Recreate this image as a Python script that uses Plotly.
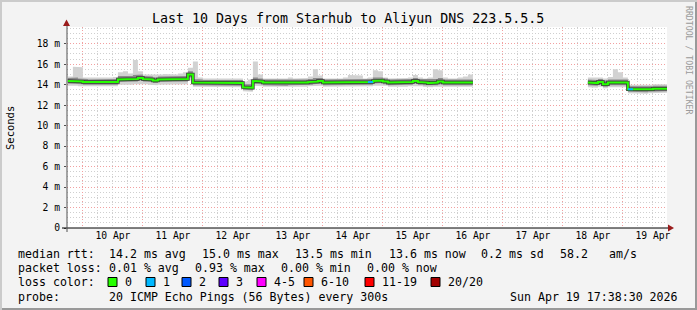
import plotly.graph_objects as go
import pandas as pd

# ---------------- data (2-hour consolidated steps, starting 2026-04-09 18:00) ----------------
START = "2026-04-09 18:00"
STEP_HOURS = 2
GAP = [None] * 23

rtt_med = [14.35, 14.35, 14.3, 14.25, 14.2, 14.25, 14.2, 14.25, 14.2, 14.25,
           14.5, 14.55, 14.5, 14.55, 14.65, 14.55, 14.5, 14.4, 14.5, 14.5,
           14.5, 14.55, 14.5, 14.55, 15.0, 14.2, 14.2, 14.15, 14.15, 14.15,
           14.15, 14.15, 14.15, 14.2, 14.15, 13.75, 13.7, 14.35, 14.3, 14.2,
           14.2, 14.2, 14.2, 14.15, 14.2, 14.2, 14.2, 14.2, 14.25, 14.3,
           14.35, 14.2, 14.2, 14.2, 14.2, 14.2, 14.2, 14.25, 14.2, 14.2,
           14.25, 14.35, 14.4, 14.3, 14.2, 14.2, 14.2, 14.2, 14.25, 14.35,
           14.25, 14.2, 14.15, 14.2, 14.3, 14.2, 14.2, 14.2, 14.25, 14.2, 14.2] + GAP + \
          [14.2, 14.15, 14.25, 14.05, 14.2, 14.2, 14.25, 14.2,
           13.55, 13.5, 13.55, 13.5, 13.55, 13.6, 13.55, 13.6]

rtt_min = [13.9, 13.9, 13.85, 13.85, 13.8, 13.85, 13.8, 13.85, 13.8, 13.85,
           14.0, 14.05, 14.0, 14.05, 14.1, 14.05, 14.0, 13.95, 14.0, 14.0,
           14.0, 14.05, 14.0, 14.05, 14.4, 13.8, 13.8, 13.75, 13.75, 13.75,
           13.75, 13.75, 13.75, 13.8, 13.75, 13.35, 13.3, 13.9, 13.85, 13.8,
           13.8, 13.8, 13.8, 13.75, 13.8, 13.8, 13.8, 13.8, 13.85, 13.9,
           13.9, 13.8, 13.8, 13.8, 13.8, 13.8, 13.8, 13.85, 13.8, 13.8,
           13.85, 13.9, 13.95, 13.9, 13.8, 13.8, 13.8, 13.8, 13.85, 13.9,
           13.85, 13.8, 13.75, 13.8, 13.85, 13.8, 13.8, 13.8, 13.85, 13.8, 13.8] + GAP + \
          [13.75, 13.7, 13.8, 13.65, 13.75, 13.75, 13.8, 13.75,
           13.15, 13.1, 13.15, 13.1, 13.15, 13.2, 13.15, 13.2]

rtt_q1 = [14.1, 14.1, 14.05, 14.0, 13.95, 14.0, 13.95, 14.0, 13.95, 14.0,
          14.25, 14.3, 14.25, 14.3, 14.4, 14.3, 14.25, 14.15, 14.25, 14.25,
          14.25, 14.3, 14.25, 14.3, 14.7, 13.95, 13.95, 13.9, 13.9, 13.9,
          13.9, 13.9, 13.9, 13.95, 13.9, 13.5, 13.45, 14.1, 14.05, 13.95,
          13.95, 13.95, 13.95, 13.9, 13.95, 13.95, 13.95, 13.95, 14.0, 14.05,
          14.1, 13.95, 13.95, 13.95, 13.95, 13.95, 13.95, 14.0, 13.95, 13.95,
          14.0, 14.1, 14.15, 14.05, 13.95, 13.95, 13.95, 13.95, 14.0, 14.1,
          14.0, 13.95, 13.9, 13.95, 14.05, 13.95, 13.95, 13.95, 14.0, 13.95, 13.95] + GAP + \
         [13.95, 13.9, 14.0, 13.8, 13.95, 13.95, 14.0, 13.95,
          13.3, 13.25, 13.3, 13.25, 13.3, 13.35, 13.3, 13.35]

rtt_q3 = [14.65, 14.7, 14.6, 14.55, 14.5, 14.55, 14.5, 14.55, 14.5, 14.55,
          14.85, 14.9, 14.85, 14.95, 15.0, 14.85, 14.8, 14.7, 14.8, 14.8,
          14.8, 14.85, 14.8, 14.85, 15.3, 14.55, 14.5, 14.45, 14.45, 14.45,
          14.45, 14.45, 14.45, 14.5, 14.45, 14.05, 14.05, 14.7, 14.6, 14.5,
          14.5, 14.5, 14.5, 14.45, 14.5, 14.5, 14.5, 14.5, 14.55, 14.65,
          14.65, 14.5, 14.5, 14.5, 14.5, 14.55, 14.55, 14.55, 14.5, 14.5,
          14.55, 14.7, 14.7, 14.6, 14.5, 14.5, 14.5, 14.5, 14.55, 14.65,
          14.55, 14.5, 14.5, 14.55, 14.65, 14.5, 14.5, 14.5, 14.55, 14.55, 14.5] + GAP + \
         [14.5, 14.45, 14.55, 14.4, 14.5, 14.55, 14.55, 14.5,
          13.85, 13.8, 13.85, 13.8, 13.85, 13.9, 13.85, 13.9]

rtt_max = [14.8, 15.75, 15.7, 14.7, 14.65, 14.7, 14.7, 14.65, 14.7, 14.75,
           15.2, 15.3, 15.1, 16.4, 15.3, 15.0, 15.0, 14.95, 15.0, 15.05,
           15.0, 15.0, 15.1, 15.2, 15.65, 16.25, 14.7, 14.6, 14.6, 14.6,
           14.6, 14.6, 14.6, 14.65, 14.6, 14.3, 14.5, 16.25, 15.0, 14.6,
           14.6, 14.6, 14.6, 14.6, 14.7, 14.6, 14.6, 14.65, 14.8, 15.5,
           14.9, 14.6, 14.6, 14.6, 14.6, 14.7, 14.95, 14.9, 14.9, 14.6,
           14.7, 15.4, 15.3, 14.7, 14.6, 14.6, 14.6, 14.65, 14.7, 14.95,
           14.7, 14.6, 14.7, 15.5, 15.4, 14.7, 14.6, 14.6, 14.7, 14.8, 15.0] + GAP + \
          [14.7, 14.75, 14.7, 14.6, 14.75, 15.5, 15.2, 14.7,
           14.0, 13.95, 14.0, 13.95, 14.0, 14.05, 14.0, 14.05]

# packets lost (of 20) per step
loss = [0] * 60 + [1] + [0] * 20 + GAP + [0] * 8 + [1] + [0] * 7

loss_labels = ["0", "1", "2", "3", "4-5", "6-10", "11-19", "20/20"]
loss_upper = [0, 1, 2, 3, 5, 10, 19, 20]
loss_colors = ["#26ff00", "#00b8ff", "#0059ff", "#5e00ff", "#ff00ff", "#ff5500", "#ff0000", "#a10000"]

y_tick_vals = [0, 2, 4, 6, 8, 10, 12, 14, 16, 18]
y_tick_text = ["0", "2 m", "4 m", "6 m", "8 m", "10 m", "12 m", "14 m", "16 m", "18 m"]

title = "Last 10 Days from Starhub to Aliyun DNS 223.5.5.5"
rtt_stats = ["14.2 ms avg", "15.0 ms max", "13.5 ms min", "13.6 ms now", "0.2 ms sd", "58.2", "am/s"]
loss_stats = ["0.01 % avg", "0.93 % max", "0.00 % min", "0.00 % now"]
probe_text = "20 ICMP Echo Pings (56 Bytes) every 300s"
stamp_text = "Sun Apr 19 17:38:30 2026"
x_start = "2026-04-09 17:38:30"
x_end = "2026-04-19 17:38:30"

# ---------------- layout geometry (pixels) ----------------
W, H = 697, 310
L, R, T, B = 67, 667, 27, 228
PW, PH = R - L, B - T
MONO = "DejaVu Sans Mono"


def px(x):
    return (x - L) / PW


def py(y):
    return (B - y) / PH


edges = [pd.Timestamp(START) + pd.Timedelta(hours=STEP_HOURS * i) for i in range(len(rtt_med) + 1)]


def segments(vals):
    segs, cur = [], []
    for i, v in enumerate(vals):
        if v is None:
            if cur:
                segs.append(cur)
            cur = []
        else:
            cur.append(i)
    if cur:
        segs.append(cur)
    return segs


def step_xy(idx, vals):
    xs, ys = [], []
    for i in idx:
        xs += [edges[i], edges[i + 1]]
        ys += [vals[i], vals[i]]
    return xs, ys


fig = go.Figure()


def add_band(lo, hi, color):
    for seg in segments(hi):
        xh, yh = step_xy(seg, hi)
        xl, yl = step_xy(seg, lo)
        fig.add_trace(go.Scatter(x=xh + xl[::-1], y=yh + yl[::-1], fill="toself",
                                 fillcolor=color, line=dict(width=0), mode="lines",
                                 hoverinfo="skip", showlegend=False))


add_band(rtt_min, rtt_max, "#d2d2d2")
add_band(rtt_q1, rtt_q3, "#8a8a8a")

for seg in segments(rtt_med):
    xm, ym = step_xy(seg, rtt_med)
    fig.add_trace(go.Scatter(x=xm, y=ym, mode="lines", line=dict(color="#3a3a3a", width=3.5),
                             hoverinfo="skip", showlegend=False))
    fig.add_trace(go.Scatter(x=xm, y=ym, mode="lines", line=dict(color=loss_colors[0], width=2),
                             hoverinfo="skip", showlegend=False))


def loss_color(n):
    for up, c in zip(loss_upper, loss_colors):
        if n <= up:
            return c
    return loss_colors[-1]


for i, n in enumerate(loss):
    if n and rtt_med[i] is not None:
        xm, ym = step_xy([i], rtt_med)
        fig.add_trace(go.Scatter(x=xm, y=ym, mode="lines", line=dict(color=loss_color(n), width=2),
                                 hoverinfo="skip", showlegend=False))

shapes = []
# frame
shapes.append(dict(type="rect", xref="paper", yref="paper", x0=px(0), x1=px(W), y0=py(H), y1=py(0),
                   line=dict(width=0), fillcolor="#cbcbcb", layer="below"))
shapes.append(dict(type="rect", xref="paper", yref="paper", x0=px(2), x1=px(W), y0=py(H), y1=py(2),
                   line=dict(width=0), fillcolor="#999999", layer="below"))
shapes.append(dict(type="rect", xref="paper", yref="paper", x0=px(2), x1=px(W - 2), y0=py(H - 2), y1=py(2),
                   line=dict(width=0), fillcolor="#f3f3f3", layer="below"))
shapes.append(dict(type="rect", xref="paper", yref="paper", x0=0, x1=1, y0=0, y1=1,
                   line=dict(width=0), fillcolor="#ffffff", layer="below"))
# axes
shapes.append(dict(type="line", xref="paper", yref="paper", x0=px(62), x1=px(670), y0=0, y1=0,
                   line=dict(color="#000000", width=1)))
shapes.append(dict(type="line", xref="paper", yref="paper", x0=0, x1=0, y0=py(232), y1=py(24),
                   line=dict(color="#505050", width=1)))
# arrows
shapes.append(dict(type="path", xref="paper", yref="paper",
                   path=f"M {px(63)},{py(26)} L {px(70)},{py(26)} L {px(66.5)},{py(19.5)} Z",
                   fillcolor="#9a1c1c", line=dict(width=0)))
shapes.append(dict(type="path", xref="paper", yref="paper",
                   path=f"M {px(668)},{py(224.5)} L {px(668)},{py(231.5)} L {px(674)},{py(228)} Z",
                   fillcolor="#9a1c1c", line=dict(width=0)))
# loss colour boxes
box_x = [108, 146, 182, 219, 257, 304, 365, 431]
lab_x = [123, 161, 197, 234, 272, 319, 380, 446]
for bx, c in zip(box_x, loss_colors):
    shapes.append(dict(type="rect", xref="paper", yref="paper", x0=px(bx), x1=px(bx + 9),
                       y0=py(286.5), y1=py(277.5), fillcolor=c, line=dict(color="#000000", width=1)))

ann = []


def text(x, y, s, size=11.6, anchor="left", color="#000000", angle=0, yanchor="middle"):
    ann.append(dict(xref="paper", yref="paper", x=px(x), y=py(y), text=s, showarrow=False,
                    xanchor=anchor, yanchor=yanchor, textangle=angle,
                    font=dict(family=MONO, size=size, color=color)))


text(348, 19, title, size=13.3, anchor="center")
text(10, 128, "Seconds", size=10.5, anchor="center", angle=-90)
text(689, 60, "RRDTOOL / TOBI OETIKER", size=8.2, anchor="center", color="#9a9a9a", angle=90)

text(16, 254, "median rtt:")
for x, s in zip([107, 200, 293, 386.5, 479, 558, 607], rtt_stats):
    text(x, 254, s)
text(16, 268, "packet loss:")
for x, s in zip([107.3, 193.3, 279.3, 365], loss_stats):
    text(x, 268, s)
text(16, 282, "loss color:")
for x, s in zip(lab_x, loss_labels):
    text(x, 282, s)
text(16, 296.5, "probe:")
text(107.3, 296.5, probe_text)
text(680, 296.5, stamp_text, anchor="right")

fig.update_layout(
    width=W, height=H, margin=dict(l=L, r=W - R, t=T, b=H - B, pad=0),
    paper_bgcolor="#f3f3f3", plot_bgcolor="#ffffff", showlegend=False,
    shapes=shapes, annotations=ann,
    font=dict(family=MONO, size=9.7, color="#000000"),
)
fig.update_xaxes(
    type="date", range=[x_start, x_end], showline=False, zeroline=False,
    tick0="2026-04-10", dtick=86400000, tickformat="%d %b", ticklabelmode="period",
    showgrid=True, gridcolor="#f2a0a0", griddash="1px,2px", gridwidth=1,
    ticks="", tickfont=dict(family=MONO, size=9.7),
    minor=dict(dtick=6 * 3600000, showgrid=True, gridcolor="#cfcfcf", griddash="1px,2px", gridwidth=1),
)
fig.update_yaxes(
    range=[0, (B - T) / 10.24], showline=False, zeroline=False,
    tickmode="array", tickvals=y_tick_vals, ticktext=y_tick_text,
    showgrid=True, gridcolor="#f2a0a0", griddash="1px,2px", gridwidth=1,
    ticks="outside", ticklen=2, tickcolor="#505050", tickfont=dict(family=MONO, size=9.7),
    ticklabelstandoff=2,
    minor=dict(tickmode="linear", tick0=0, dtick=0.5, showgrid=True, gridcolor="#cfcfcf",
               griddash="1px,2px", gridwidth=1),
)

fig.write_html("out.html")
